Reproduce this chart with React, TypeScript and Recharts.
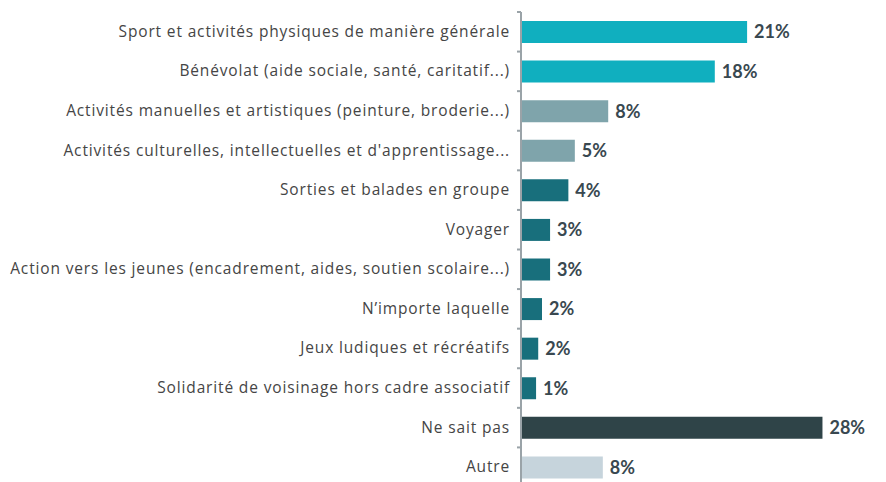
import { BarChart, Bar, XAxis, YAxis, Cell, LabelList } from 'recharts';

const CATEGORIES = [
  'Sport et activités physiques de manière générale',
  'Bénévolat (aide sociale, santé, caritatif...)',
  'Activités manuelles et artistiques (peinture, broderie...)',
  "Activités culturelles, intellectuelles et d'apprentissage...",
  'Sorties et balades en groupe',
  'Voyager',
  'Action vers les jeunes (encadrement, aides, soutien scolaire...)',
  'N’importe laquelle',
  'Jeux ludiques et récréatifs',
  'Solidarité de voisinage hors cadre associatif',
  'Ne sait pas',
  'Autre',
];

const VALUES = [21, 18, 8.1, 5, 4.4, 2.7, 2.7, 1.95, 1.6, 1.4, 28, 7.6];
const LABELS = ['21%', '18%', '8%', '5%', '4%', '3%', '3%', '2%', '2%', '1%', '28%', '8%'];

const COLORS = [
  '#10afbf', '#10afbf',
  '#7fa4ab', '#7fa4ab',
  '#186f7c', '#186f7c', '#186f7c', '#186f7c', '#186f7c', '#186f7c',
  '#2f4448',
  '#c6d4dc',
];

const FONT = '"Open Sans", "Noto Sans", sans-serif';
const CHART_H = 492;
const MARGIN = { top: 12, right: 42, bottom: 5, left: 0 };
const HALF_BAND = (CHART_H - MARGIN.top - MARGIN.bottom) / CATEGORIES.length / 2;

const data = CATEGORIES.map((name, i) => ({ name, value: VALUES[i], label: LABELS[i] }));

function CategoryTick(props: any) {
  const { x, y, payload, index } = props;
  const last = index === CATEGORIES.length - 1;
  return (
    <g>
      <line x1={x + 7} x2={x + 11} y1={y - HALF_BAND} y2={y - HALF_BAND} stroke="#9aa3a8" strokeWidth={2} />
      {last && (
        <line x1={x + 7} x2={x + 11} y1={y + HALF_BAND} y2={y + HALF_BAND} stroke="#9aa3a8" strokeWidth={2} />
      )}
      <text
        x={x}
        y={y}
        dy={5}
        textAnchor="end"
        fontSize={15.5}
        letterSpacing={0.85}
        fill="#454545"
        fontFamily={FONT}
      >
        {payload.value}
      </text>
    </g>
  );
}

export default function App() {
  return (
    <div style={{ width: 886, height: 482, overflow: 'hidden', background: '#fff' }}>
      <style>{'body{margin:0}'}</style>
      <BarChart width={886} height={CHART_H} data={data} layout="vertical" margin={MARGIN}>
        <XAxis type="number" domain={[0, 30]} hide />
        <YAxis
          type="category"
          dataKey="name"
          width={521}
          tickLine={false}
          axisLine={{ stroke: '#9aa3a8', strokeWidth: 2 }}
          tick={<CategoryTick />}
          interval={0}
          tickMargin={5}
        />
        <Bar dataKey="value" barSize={22} isAnimationActive={false}>
          {data.map((_, i) => (
            <Cell key={`cell-${i}`} fill={COLORS[i]} />
          ))}
          <LabelList
            dataKey="label"
            position="right"
            offset={7}
            style={{ fontSize: 18, fontWeight: 700, fill: '#394850', fontFamily: 'Lato, sans-serif' }}
          />
        </Bar>
      </BarChart>
    </div>
  );
}
